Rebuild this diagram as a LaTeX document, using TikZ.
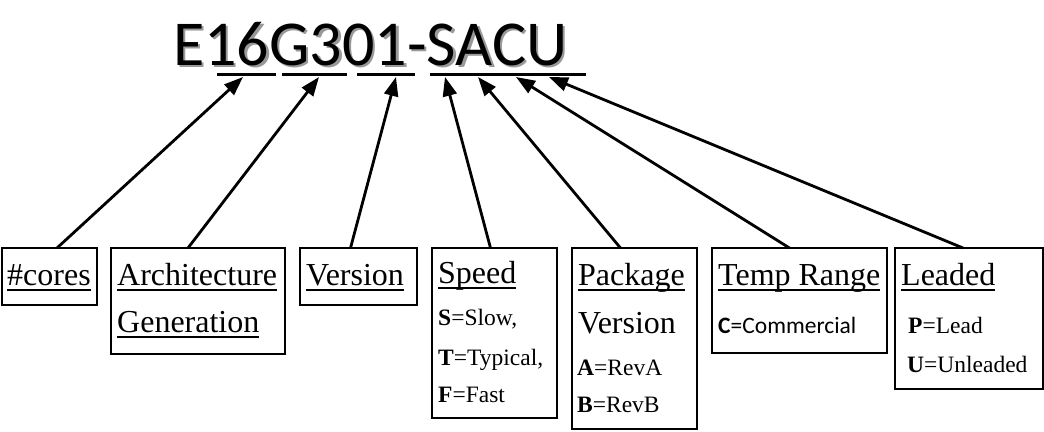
\documentclass[tikz,border=0pt]{standalone}
\usepackage{fontspec}
\setmainfont{Liberation Serif}
\newfontfamily\calfont{Carlito}
\usetikzlibrary{arrows.meta}
\newcommand\myul[1]{\setbox0\hbox{#1}\rlap{\rule[-5.5pt]{\wd0}{1.6pt}}\box0}
\begin{document}
\begin{tikzpicture}[x=1pt,y=-1pt,
 box/.style={draw,line width=1.8pt,anchor=north west,inner sep=0pt,outer sep=0pt},
 lbl/.style={anchor=base west,inner sep=0pt,font=\fontsize{32}{38}\selectfont},
 sm/.style={anchor=base west,inner sep=0pt,font=\fontsize{23.5}{28}\selectfont},
 arr/.style={line width=2.8pt,-{Triangle[length=19pt,width=14pt]}},
 ulseg/.style={line width=3pt},
 ttl/.style={anchor=base west,inner sep=0pt,font=\calfont\fontsize{64}{76}\selectfont}]
\useasboundingbox (0,0) rectangle (1044,431);
% title
\node[ttl,text=black!40] (tshadow) at (175.5,67.5) {E16G301-SACU};
\node[ttl] (title) at (173,65) {E16G301-SACU};
% underline segments
\coordinate (u1a) at (217,74); \coordinate (u1b) at (276,74);
\coordinate (u2a) at (282,74); \coordinate (u2b) at (347,74);
\coordinate (u3a) at (357,74); \coordinate (u3b) at (415,74);
\coordinate (u4a) at (430,74); \coordinate (u4b) at (586,74);
\draw[ulseg] (u1a) -- (u1b);
\draw[ulseg] (u2a) -- (u2b);
\draw[ulseg] (u3a) -- (u3b);
\draw[ulseg] (u4a) -- (u4b);
% boxes
\node[box,minimum width=95pt,minimum height=57pt] (cores) at (2,248) {};
\node[box,minimum width=174pt,minimum height=106pt] (arch) at (111,248) {};
\node[box,minimum width=117pt,minimum height=57pt] (ver) at (300,248) {};
\node[box,minimum width=125pt,minimum height=170pt] (speed) at (432,248) {};
\node[box,minimum width=125pt,minimum height=181pt] (pkg) at (572,248) {};
\node[box,minimum width=175pt,minimum height=105pt] (temp) at (712,248) {};
\node[box,minimum width=148pt,minimum height=141pt] (lead) at (895,248) {};
% texts
\node[lbl] (tcores) at (7,285) {\myul{\#cores}};
\node[lbl] (tarch1) at (117,285) {\myul{Architecture}};
\node[lbl] (tarch2) at (117,332) {\myul{Generation}};
\node[lbl] (tver) at (306,285) {\myul{Version}};
\node[lbl] (tspeed) at (438,283) {\myul{Speed}};
\node[sm] (s1) at (438,325) {\textbf{S}=Slow,};
\node[sm] (s2) at (438,365) {\textbf{T}=Typical,};
\node[sm] (s3) at (438,402) {\textbf{F}=Fast};
\node[lbl] (tpkg1) at (578,285) {\myul{Package}};
\node[lbl] (tpkg2) at (578,333) {Version};
\node[sm] (a1) at (577,375) {\textbf{A}=RevA};
\node[sm] (a2) at (577,412) {\textbf{B}=RevB};
\node[lbl] (ttemp) at (718,285) {\myul{Temp Range}};
\node[sm,font=\calfont\fontsize{23.5}{28}\selectfont] (c1) at (718,333) {\textbf{C}=Commercial};
\node[lbl] (tlead) at (901,285) {\myul{Leaded}};
\node[sm] (l1) at (908,333) {\textbf{P}=Lead};
\node[sm] (l2) at (907,372) {\textbf{U}=Unleaded};
% arrow tips
\coordinate (p1) at (243,77);
\coordinate (p2) at (319,77);
\coordinate (p3) at (396,77);
\coordinate (p4) at (445,77);
\coordinate (p5) at (478,77);
\coordinate (p6) at (516,77);
\coordinate (p7) at (549,77);
\draw[arr] ([xshift=7.5pt]cores.north) -- (p1);
\draw[arr] ([xshift=-10pt]arch.north) -- (p2);
\draw[arr] ([xshift=-8pt]ver.north) -- (p3);
\draw[arr] ([xshift=-4pt]speed.north) -- (p4);
\draw[arr] ([xshift=-14pt]pkg.north) -- (p5);
\draw[arr] ([xshift=-10pt]temp.north) -- (p6);
\draw[arr] ([xshift=-6pt]lead.north) -- (p7);
\end{tikzpicture}
\end{document}
